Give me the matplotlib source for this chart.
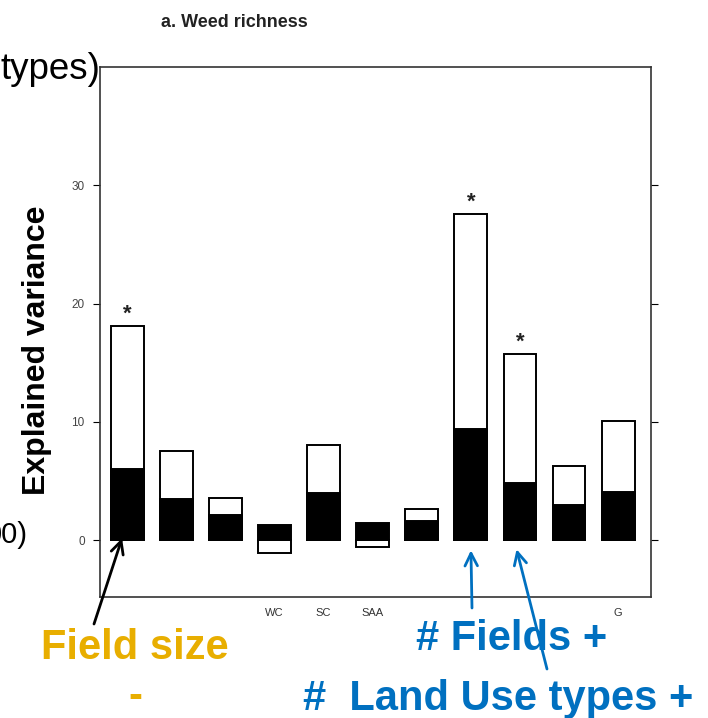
import matplotlib.pyplot as plt

# Data
labels = ["", "", "", "WC", "SC", "SAA", "", "", "", "", "G"]
total_var = [18.1, 7.55, 3.58, -1.07, 8.03, -0.56, 2.68, 27.56, 15.7, 6.25, 10.06]
unique_var = [6.06, 3.5, 2.17, 1.27, 3.95, 1.46, 1.63, 9.38, 4.85, 2.96, 4.06]
significant = [0, 7, 8]

plt.rcParams['font.family'] = ['Liberation Sans', 'DejaVu Sans']

fig = plt.figure(figsize=(7.08, 7.18), dpi=100)
ax = fig.add_axes([0.1412, 0.1685, 0.7783, 0.7382])

x = list(range(len(labels)))
ax.bar(x, total_var, width=0.67, color="white", edgecolor="black", linewidth=1.4)
ax.bar(x, unique_var, width=0.67, color="black", edgecolor="black", linewidth=1.4)

for i in significant:
    ax.text(i, total_var[i] + 0.15, "*", ha="center", va="bottom", fontsize=16,
            fontweight="bold", color="#222")

ax.set_xlim(-0.56, 10.67)
ax.set_ylim(-4.8, 40)
ax.set_yticks([0, 10, 20, 30])
ax.set_xticks(x)
ax.set_xticklabels(labels, fontsize=8, color="#333")
ax.tick_params(axis="x", length=0, pad=8)
ax.tick_params(axis="y", direction="out", length=5, labelsize=8.5, labelcolor="#444",
               right=True, pad=6)
for s in ax.spines.values():
    s.set_linewidth(1.2)
    s.set_color("#333")

W, H = 708, 718

def fx(px):
    return px / W

def fy(py):
    return 1 - py / H

fig.text(fx(234), fy(27), "a. Weed richness", ha="center", va="baseline",
         fontsize=13, fontweight="bold", color="#222")
fig.text(fx(37), fy(350), "Explained variance", rotation=90, ha="center", va="center",
         fontsize=23, fontweight="bold")
fig.text(fx(100), fy(79), "types)", ha="right", va="baseline", fontsize=26.5)
fig.text(fx(28), fy(543), "00)", ha="right", va="baseline", fontsize=21)

orange = "#E8AE00"
blue = "#0070C0"
fig.text(fx(135), fy(659), "Field size", ha="center", va="baseline",
         fontsize=30, fontweight="bold", color=orange)
fig.text(fx(135), fy(708), "-", ha="center", va="baseline",
         fontsize=30, fontweight="bold", color=orange)
fig.text(fx(512), fy(650), "# Fields +", ha="center", va="baseline",
         fontsize=30, fontweight="bold", color=blue)
fig.text(fx(498), fy(710), "#  Land Use types +", ha="center", va="baseline",
         fontsize=30, fontweight="bold", color=blue)

arrow_kw = dict(arrowstyle="->,head_length=0.9,head_width=0.45", lw=2)
ax.annotate("", xy=(-0.11, 0.17), xycoords="data", xytext=(94, H - 624),
            textcoords="figure pixels", annotation_clip=False,
            arrowprops=dict(color="black", shrinkA=0, shrinkB=0, **arrow_kw))
ax.annotate("", xy=(7.0, -0.85), xycoords="data", xytext=(472, H - 608),
            textcoords="figure pixels", annotation_clip=False,
            arrowprops=dict(color=blue, shrinkA=0, shrinkB=0, **arrow_kw))
ax.annotate("", xy=(7.93, -0.76), xycoords="data", xytext=(547, H - 669),
            textcoords="figure pixels", annotation_clip=False,
            arrowprops=dict(color=blue, shrinkA=0, shrinkB=0, **arrow_kw))

fig.savefig("out.png", dpi=100)
